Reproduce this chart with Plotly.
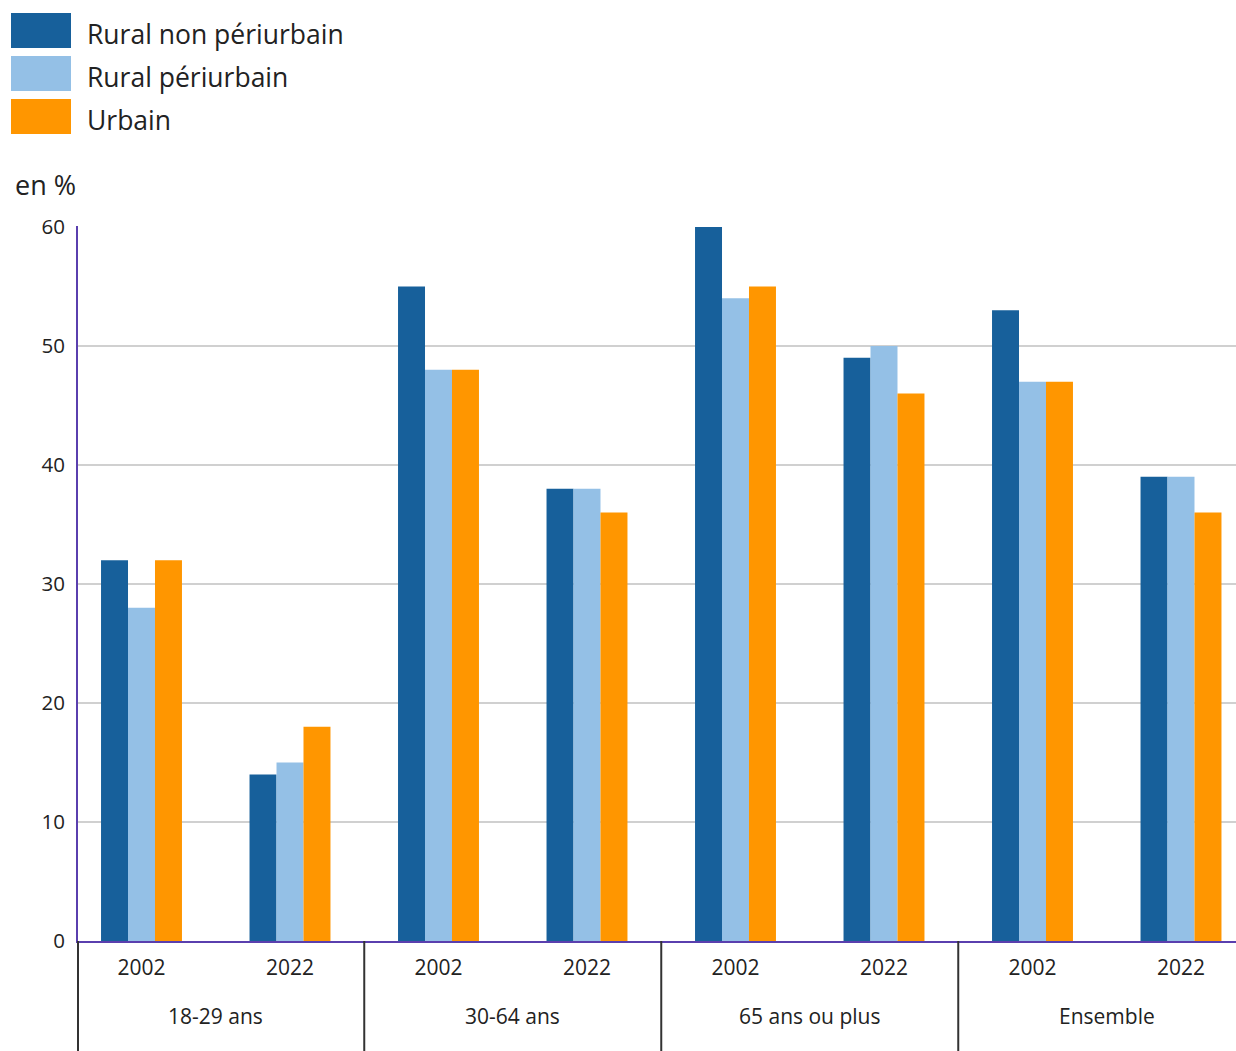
import plotly.graph_objects as go

# Share of people (%) by age group, survey year and type of municipality
groups = ["18-29 ans", "30-64 ans", "65 ans ou plus", "Ensemble"]
years = ["2002", "2022"]
series_names = ["Rural non périurbain", "Rural périurbain", "Urbain"]
series_colors = ["#17609b", "#94c0e6", "#ff9600"]

rural_non_periurbain = [32, 14, 55, 38, 60, 49, 53, 39]
rural_periurbain = [28, 15, 48, 38, 54, 50, 47, 39]
urbain = [32, 18, 48, 36, 55, 46, 47, 36]

y_ticks = [0, 10, 20, 30, 40, 50, 60]

FONT = "Open Sans"
AXIS_PURPLE = "#5a3fae"
W, H = 1236, 1051
L, R, T, B = 78, 0, 226, 110
plot_w = W - L - R
plot_h = H - T - B
FIRST_CENTER = 141.5   # pixel centre of the first year slot
SLOT = 148.5           # pixel width of one year slot

x_labels = [y for g in groups for y in years]
x_pos = list(range(len(x_labels)))

fig = go.Figure()
for name, color, vals in zip(series_names, series_colors,
                             [rural_non_periurbain, rural_periurbain, urbain]):
    fig.add_trace(go.Bar(x=x_pos, y=vals, name=name, marker_color=color,
                         marker_line_width=0, showlegend=False))


def px_x(px):
    return (px - L) / plot_w


def px_y(py):
    return (H - B - py) / plot_h


shapes = []
annotations = []

# legend swatches and labels
for i, (name, color) in enumerate(zip(series_names, series_colors)):
    top = 13 + i * 43
    shapes.append(dict(type="rect", xref="paper", yref="paper",
                       x0=px_x(11), x1=px_x(71), y0=px_y(top + 35), y1=px_y(top),
                       fillcolor=color, line_width=0))
    annotations.append(dict(text=name, xref="paper", yref="paper",
                            x=px_x(85), y=px_y(top + 21), xanchor="left",
                            yanchor="middle", showarrow=False,
                            font=dict(family=FONT, size=26.5, color="#222")))

# unit label
annotations.append(dict(text="en %", xref="paper", yref="paper",
                        x=px_x(13), y=px_y(185), xanchor="left", yanchor="middle",
                        showarrow=False, font=dict(family=FONT, size=27, color="#222")))

# group labels under the year labels
for gi, g in enumerate(groups):
    annotations.append(dict(text=g, xref="x", yref="paper",
                            x=gi * 2 + 0.5, y=px_y(1016), xanchor="center",
                            yanchor="middle", showarrow=False,
                            font=dict(family=FONT, size=21, color="#222")))

# group separators below the axis
for xd in [1.5, 3.5, 5.5]:
    shapes.append(dict(type="line", xref="x", yref="paper", x0=xd, x1=xd,
                       y0=0, y1=px_y(H + 5), line=dict(color="#333", width=2)))
shapes.append(dict(type="line", xref="paper", yref="paper", x0=0, x1=0,
                   y0=0, y1=px_y(H + 5), line=dict(color="#333", width=2)))

fig.update_layout(
    width=W, height=H,
    margin=dict(l=L, r=R, t=T, b=B),
    paper_bgcolor="white", plot_bgcolor="white",
    barmode="group", bargap=0.455, bargroupgap=0,
    shapes=shapes, annotations=annotations,
    font=dict(family=FONT, color="#222"),
    xaxis=dict(range=[-(FIRST_CENTER - L) / SLOT, (W - FIRST_CENTER) / SLOT],
               tickmode="array", tickvals=x_pos, ticktext=x_labels,
               ticks="", showgrid=False, zeroline=False,
               showline=True, linecolor=AXIS_PURPLE, linewidth=2,
               ticklabelstandoff=7,
               tickfont=dict(family=FONT, size=21, color="#222")),
    yaxis=dict(range=[0, 60.08], tickmode="array", tickvals=y_ticks,
               ticks="", showgrid=True, gridcolor="#d0d0d0", gridwidth=1.5,
               zeroline=False, showline=True, linecolor=AXIS_PURPLE, linewidth=2,
               ticklabelstandoff=7,
               tickfont=dict(family=FONT, size=20.5, color="#222")),
)

fig.write_html("out.html")
